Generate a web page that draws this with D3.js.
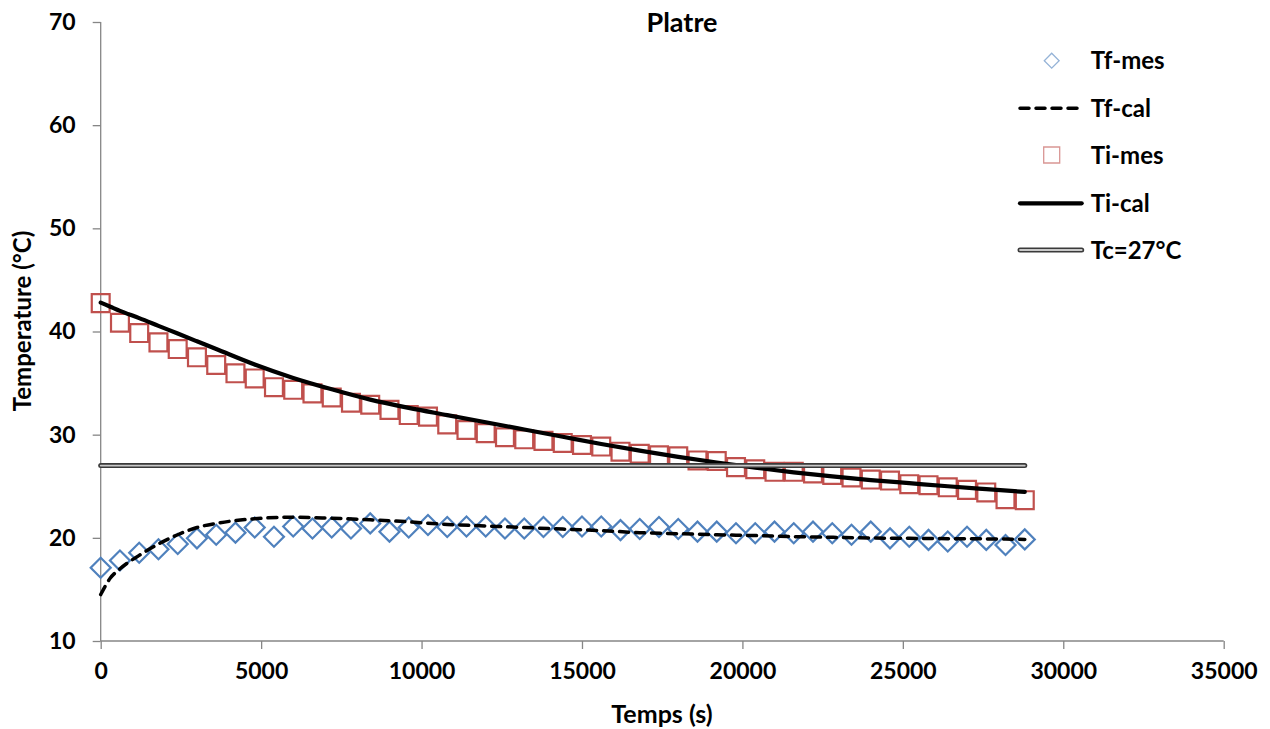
<!DOCTYPE html>
<html><head><meta charset="utf-8">
<script src="https://cdn.jsdelivr.net/npm/d3@7"></script>
<style>
body{margin:0;background:#fff;}
text{font-family:Lato,"Open Sans",sans-serif;font-weight:bold;fill:#000;}
</style></head>
<body><svg id="c" width="1270" height="729"></svg>
<script>
const title = "Platre";
const xLabel = "Temps (s)";
const yLabel = "Temperature (°C)";
const xTicks = [0,5000,10000,15000,20000,25000,30000,35000];
const yTicks = [10,20,30,40,50,60,70];
const seriesNames = ["Tf-mes","Tf-cal","Ti-mes","Ti-cal","Tc=27°C"];

const mesTimes = [0,600,1200,1800,2400,3000,3600,4200,4800,5400,6000,6600,7200,7800,8400,9000,9600,10200,10800,11400,12000,12600,13200,13800,14400,15000,15600,16200,16800,17400,18000,18600,19200,19800,20400,21000,21600,22200,22800,23400,24000,24600,25200,25800,26400,27000,27600,28200,28800];
const tfMes = [17.1,17.8,18.55,18.9,19.4,19.95,20.3,20.5,21.0,20.1,21.1,20.9,21.0,20.9,21.4,20.6,21.0,21.25,21.05,21.1,21.1,20.9,20.9,21.05,21.05,21.1,21.1,20.75,20.85,21.05,20.85,20.6,20.6,20.45,20.45,20.6,20.45,20.6,20.45,20.3,20.6,19.95,20.1,19.8,19.65,20.1,19.8,19.3,19.85];
const tiMes = [42.75,40.85,39.85,38.95,38.3,37.5,36.75,35.95,35.45,34.6,34.35,34.0,33.6,33.1,32.9,32.4,31.9,31.75,31.0,30.45,30.15,29.75,29.55,29.4,29.2,29.0,28.85,28.35,28.15,28.0,27.9,27.5,27.45,26.85,26.65,26.4,26.4,26.25,26.1,25.85,25.65,25.55,25.2,25.1,24.9,24.65,24.4,23.75,23.65];

const calTimes = [0,300,600,1200,1800,2400,3000,3600,4800,6000,7200,8400,9600,10800,12000,13200,14400,15600,16800,18000,19200,20400,21600,22800,24000,25200,26400,27600,28800];
const tfCal = [14.5,16.1,17.0,18.3,19.4,20.3,21.0,21.4,21.85,22.0,21.9,21.75,21.55,21.3,21.15,21.0,20.85,20.7,20.5,20.4,20.3,20.22,20.12,20.05,19.98,19.95,19.92,19.9,19.85];
const tiCal = [42.8,42.4,42.0,41.3,40.55,39.8,39.05,38.3,36.8,35.5,34.4,33.4,32.6,31.9,31.2,30.5,29.8,29.1,28.45,27.85,27.3,26.8,26.35,25.95,25.6,25.3,25.0,24.72,24.45];

const tcTimes = [0,28800];
const tcVals = [27,27];

const svg = d3.select("#c");
const x = d3.scaleLinear().domain([0,35000]).range([100.7,1223.7]);
const y = d3.scaleLinear().domain([10,70]).range([641,22]);
const axisColor = "#868686";

// axes
const gx = svg.append("g").attr("transform","translate(0,641)")
  .call(d3.axisBottom(x).tickValues(xTicks).tickSize(8).tickPadding(14).tickFormat(d3.format("d")));
const gy = svg.append("g").attr("transform","translate(100.7,0)")
  .call(d3.axisLeft(y).tickValues(yTicks).tickSize(8).tickPadding(17).tickFormat(d3.format("d")));
[gx,gy].forEach(g=>{
  g.select(".domain").attr("stroke",axisColor).attr("stroke-width",1.3);
  g.selectAll(".tick line").attr("stroke",axisColor).attr("stroke-width",1.3);
  g.selectAll(".tick text").attr("font-size",23).attr("font-family","Lato").attr("font-weight","bold").attr("fill","#000");
});
gx.select(".domain").attr("d","M100.7,0H1223.7");
gy.select(".domain").attr("d","M0,641V22");

const diamond = d3.symbol().type(d3.symbolSquare).size(200);
const square = d3.symbol().type(d3.symbolSquare).size(320);

// Tf-mes diamonds
svg.append("g").selectAll("path").data(mesTimes.map((t,i)=>[t,tfMes[i]])).join("path")
  .attr("d",diamond).attr("transform",d=>`translate(${x(d[0])},${y(d[1])}) rotate(45)`)
  .attr("fill","none").attr("stroke","#4F81BD").attr("stroke-width",2.2);

// Tf-cal dashed
const line = d3.line().x(d=>x(d[0])).y(d=>y(d[1])).curve(d3.curveMonotoneX);
svg.append("path").datum(calTimes.map((t,i)=>[t,tfCal[i]])).attr("d",line)
  .attr("fill","none").attr("stroke","#000").attr("stroke-width",3.5)
  .attr("stroke-dasharray","9,7").attr("stroke-linecap","round");

// Ti-mes squares
svg.append("g").selectAll("path").data(mesTimes.map((t,i)=>[t,tiMes[i]])).join("path")
  .attr("d",square).attr("transform",d=>`translate(${x(d[0])},${y(d[1])})`)
  .attr("fill","none").attr("stroke","#C0504D").attr("stroke-width",2.2);

// Ti-cal solid
svg.append("path").datum(calTimes.map((t,i)=>[t,tiCal[i]])).attr("d",line)
  .attr("fill","none").attr("stroke","#000").attr("stroke-width",4.2).attr("stroke-linecap","round");

// Tc line (double)
const tcData = tcTimes.map((t,i)=>[t,tcVals[i]]);
svg.append("path").datum(tcData).attr("d",d3.line().x(d=>x(d[0])).y(d=>y(d[1])))
  .attr("fill","none").attr("stroke","#3a3a3a").attr("stroke-width",5).attr("stroke-linecap","round");
svg.append("path").datum(tcData).attr("d",d3.line().x(d=>x(d[0])).y(d=>y(d[1])))
  .attr("fill","none").attr("stroke","#c8c8c8").attr("stroke-width",1.8).attr("stroke-linecap","round");

// title & axis labels
svg.append("text").attr("x",682).attr("y",32).attr("text-anchor","middle").attr("font-size",27).text(title);
svg.append("text").attr("x",662).attr("y",723).attr("text-anchor","middle").attr("font-size",25).text(xLabel);
svg.append("text").attr("transform","translate(31,321) rotate(-90)").attr("text-anchor","middle").attr("font-size",24).text(yLabel);

// legend
const legY = [60.7,108.3,155,203.3,250];
const lx0 = 1018, lx1 = 1081.7, lxc = 1051.7;
const lg = svg.append("g");
seriesNames.forEach((name,i)=>{
  const yy = legY[i];
  if(i===0){
    lg.append("path").attr("d",d3.symbol().type(d3.symbolSquare).size(110)).attr("transform",`translate(${lxc},${yy}) rotate(45)`)
      .attr("fill","none").attr("stroke","#95B3D7").attr("stroke-width",1.3);
  } else if(i===1){
    lg.append("line").attr("x1",lx0+2).attr("x2",lx1).attr("y1",yy).attr("y2",yy)
      .attr("stroke","#000").attr("stroke-width",3.5).attr("stroke-dasharray","9,7").attr("stroke-linecap","round");
  } else if(i===2){
    lg.append("path").attr("d",d3.symbol().type(d3.symbolSquare).size(256)).attr("transform",`translate(${lxc},${yy})`)
      .attr("fill","none").attr("stroke","#D99694").attr("stroke-width",1.3);
  } else if(i===3){
    lg.append("line").attr("x1",lx0+2).attr("x2",lx1).attr("y1",yy).attr("y2",yy)
      .attr("stroke","#000").attr("stroke-width",4.2).attr("stroke-linecap","round");
  } else {
    lg.append("line").attr("x1",lx0+2).attr("x2",lx1).attr("y1",yy).attr("y2",yy)
      .attr("stroke","#3a3a3a").attr("stroke-width",5).attr("stroke-linecap","round");
    lg.append("line").attr("x1",lx0+2).attr("x2",lx1).attr("y1",yy).attr("y2",yy)
      .attr("stroke","#c8c8c8").attr("stroke-width",1.8).attr("stroke-linecap","round");
  }
  lg.append("text").attr("x",1090.7).attr("y",yy).attr("dy","0.36em").attr("font-size",24).text(name);
});
</script></body></html>
